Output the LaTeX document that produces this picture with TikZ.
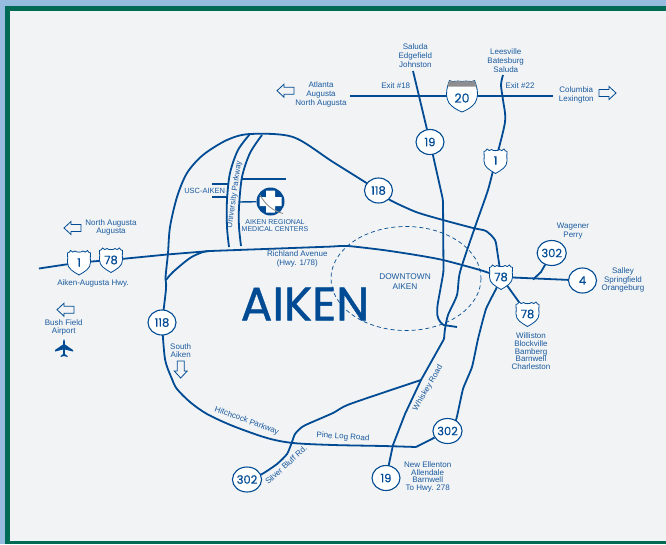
\documentclass[tikz,border=0pt]{standalone}
\usepackage{fontspec}
\setmainfont{Liberation Sans}
\newfontfamily\numf[FakeBold=0.35]{Poppins}
\newfontfamily\titlef[FakeBold=0.9]{Poppins}
\usetikzlibrary{shapes.geometric,backgrounds}
\definecolor{bgc}{HTML}{F1F3F5}
\definecolor{skyc}{HTML}{96BCE0}
\definecolor{greenc}{HTML}{006B54}
\definecolor{roadc}{HTML}{004B93}
\definecolor{textc}{HTML}{1A5A9E}
\definecolor{grayc}{HTML}{8E8E90}
\tikzset{
  road/.style={draw=roadc,line width=1.8pt,line join=round},
  thinroad/.style={draw=roadc,line width=1.4pt},
  lbl/.style={text=textc,align=center,inner sep=0pt,font=\fontsize{8}{9}\selectfont},
  lblt/.style={text=textc,align=center,inner sep=0pt,font=\fontsize{8}{7.6}\selectfont},
  rc/.style={ellipse,draw=roadc,fill=white,line width=1.1pt,minimum width=28,minimum height=25,inner sep=0pt,text=roadc,font=\numf\fontsize{11.5}{12}\selectfont},
  num/.style={inner sep=0pt,text=roadc,font=\numf\fontsize{11.5}{12}\selectfont},
  usshield/.pic={
    \path[draw=roadc,fill=white,line width=0.8pt]
      (-8.5,-12) .. controls (-7.5,-10) and (-5,-10) .. (-4,-11.5)
      .. controls (-3,-10) and (3,-10) .. (4,-11.5)
      .. controls (5,-10) and (7.5,-10) .. (8.5,-12)
      .. controls (9,-10.5) and (10.5,-9.5) .. (11.5,-9.5)
      .. controls (11,-6) and (11.5,-3) .. (11.5,0)
      .. controls (11.5,6) and (6,9) .. (0,12.5)
      .. controls (-6,9) and (-11.5,6) .. (-11.5,0)
      .. controls (-11.5,-3) and (-11,-6) .. (-11.5,-9.5)
      .. controls (-10.5,-9.5) and (-9,-10.5) .. (-8.5,-12) -- cycle;
  },
  ishield/.pic={
    \path[draw=roadc,fill=white,line width=0.8pt]
      (-14.5,-9.5) .. controls (-14,-12) and (-13,-14) .. (-12.5,-15.5)
      .. controls (-9,-13) and (-6,-16) .. (0,-14.5)
      .. controls (6,-16) and (9,-13) .. (12.5,-15.5)
      .. controls (13,-14) and (14,-12) .. (14.5,-9.5)
      .. controls (16,-4) and (16,2) .. (13,7)
      .. controls (10,11) and (5,14) .. (0,16)
      .. controls (-5,14) and (-10,11) .. (-13,7)
      .. controls (-16,2) and (-16,-4) .. (-14.5,-9.5) -- cycle;
    \path[fill=grayc]
      (-14.5,-9.5) .. controls (-14,-12) and (-13,-14) .. (-12.5,-15.5)
      .. controls (-9,-13) and (-6,-16) .. (0,-14.5)
      .. controls (6,-16) and (9,-13) .. (12.5,-15.5)
      .. controls (13,-14) and (14,-12) .. (14.5,-9.5) -- cycle;
  },
  openarrow/.pic={
    \path[draw=roadc,line width=0.8pt,line join=miter]
      (-8.5,0) -- (-1.5,-6.5) -- (-1.5,-3.5) -- (8.5,-3.5) -- (8.5,3.5) -- (-1.5,3.5) -- (-1.5,6.5) -- cycle;
  },
  plane/.pic={
    \path[fill=roadc]
      (0,-9) .. controls (1,-8) and (1,-6) .. (1,-3.5) -- (9,2) -- (9,3.5) -- (1,1.5) -- (0.8,6)
      -- (3.5,8) -- (3.5,9) -- (0,8) -- (-3.5,9) -- (-3.5,8) -- (-0.8,6) -- (-1,1.5) -- (-9,3.5) -- (-9,2) -- (-1,-3.5)
      .. controls (-1,-6) and (-1,-8) .. (0,-9) -- cycle;
  }
}
\begin{document}
\begin{tikzpicture}[x=1pt,y=-1pt]
\useasboundingbox (0,0) rectangle (666,544);
% route markers
\node[rc] (c19n) at (430,142) {19};
\node[rc] (c19s) at (386,478) {19};
\node[rc] (c118e) at (378.5,190.5) {118};
\node[rc] (c118w) at (162,322.5) {118};
\node[rc] (c302e) at (551.7,253) {302};
\node[rc] (c302m) at (447.5,431) {302};
\node[rc] (c302s) at (247,479.5) {302};
\node[rc] (c4) at (582.5,280.5) {4};
\pic at (462,96) {ishield};
\node[num,font=\numf\fontsize{12.5}{13}\selectfont] (i20) at (462,98) {20};
\pic at (495.5,161) {usshield};
\node[num] (s1n) at (495.5,160.5) {1};
\pic at (79,262.5) {usshield};
\node[num] (s1w) at (79,262.5) {1};
\pic at (111,260) {usshield};
\node[num] (s78w) at (111,260) {78};
\pic at (501,277) {usshield};
\node[num] (s78e) at (501,277) {78};
\pic at (527.5,314) {usshield};
\node[num] (s78s) at (527.5,314) {78};
% hospital
\node[circle,fill=roadc,minimum size=28,inner sep=0pt] (hosp) at (270.5,201.5) {};
\fill[white] (266,190.5) -- (275,190.5) -- (275,197) -- (281.5,197) -- (281.5,206) -- (275,206) -- (275,212.5) -- (266,212.5) -- (266,206) -- (259.5,206) -- (259.5,197) -- (266,197) -- cycle;
\draw[grayc,line width=0.9pt] (260,195) .. controls (266,206) and (274,211) .. (283,213.5);
% free ends
\coordinate (n19) at (413,71);
\coordinate (n1) at (503,75);
\coordinate (eW) at (350,96);
\coordinate (eE) at (553,96);
\coordinate (rW) at (39,268.5);
\coordinate (e19) at (457,327);
\coordinate (loopTop) at (250,134);
\coordinate (univR) at (262,135);
\coordinate (univLb) at (229,247);
\coordinate (univRb) at (241,246);
\coordinate (j1) at (166,280);
\coordinate (j2) at (210,251);
\coordinate (j3) at (421,380);
\coordinate (j4) at (533,279.5);
\coordinate (u1a) at (212,184); \coordinate (u1b) at (228,184);
\coordinate (u2a) at (212,197); \coordinate (u2b) at (227,197);
\coordinate (u3a) at (242,179); \coordinate (u3b) at (286,179);
\coordinate (u4a) at (239,202);
% connectors
\begin{scope}[on background layer]
\fill[skyc] (0,0) rectangle (666,544);
\fill[greenc] (5,5.5) rectangle (666,544);
\fill[bgc] (10,10.5) rectangle (666,541);
\draw[thinroad] (eW) -- (eW -| i20) -- (eE);
\draw[road] (n19) -- (419,96) -- (c19n);
\draw[road,rounded corners=3pt] (c19n) -- (443,200) -- (443.5,272) -- (437.5,305) -- (437,312) .. controls (438,321) and (443,325) .. (447,325.5) -- (e19);
\draw[road] plot[smooth,tension=0.5] coordinates {(n1) (501,85) (503,100) (505,122) (s1n)};
\draw[road] plot[smooth,tension=0.4] coordinates {(s1n) (488,190) (475,227) (460,272) (457,295) (448,315) (445,329) (444,339)};
\draw[road] (444,339) -- (j3) -- (405,414) -- (393,445) -- (c19s);
\draw[road] plot[smooth,tension=0.4] coordinates {(j3) (350,404) (333,413) (310,423) (302,427) (295,434) (292,442) (287,454) (277,464) (262,474) (c302s)};
\draw[road] plot[smooth,tension=0.5] coordinates {(c118w) (165,359) (172,379) (177,389) (190,402) (207,414) (233,426) (267,438) (293,443) (333,445) (383,446) (416,447)};
\draw[road] (416,447) -- (c302m);
\draw[road] plot[smooth,tension=0.3] coordinates {(c302m) (456,420) (463,389) (472,367) (478,339) (486,309) (496,289) (s78e)};
\draw[road] plot[smooth,tension=0.5] coordinates {(c118w) (166,289) (165.5,279) (166,272) (168,253) (170,227) (177,197) (187,173) (203,155) (227,140) (loopTop) (293,137) (333,162) (c118e)};
\draw[road] plot[smooth,tension=0.4] coordinates {(c118e) (390,200) (416,212) (443,220) (473,228) (486,231) (495,240) (497.5,253) (s78e)};
\draw[road] plot[smooth,tension=0.5] coordinates {(j1) (173,272) (190,258) (203,252) (j2)};
\draw[road] (rW) -- (s1w) -- (s78w) -- (167,254.5) -- (j2) -- (333,246.5);
\draw[road] plot[smooth,tension=0.4] coordinates {(333,246.5) (348,246) (383,250) (416,255) (443,260) (480,270) (s78e)};
\draw[road] (s78e) -- (c4);
\draw[road] (c302e) -- (541,272) -- (j4);
\draw[road] (s78e) -- (s78s);
\draw[road] plot[smooth,tension=0.5] coordinates {(loopTop) (238,150) (230,173) (227,200) (227,227) (univLb)};
\draw[road] plot[smooth,tension=0.5] coordinates {(univR) (250,153) (242,177) (239,207) (239,227) (univRb)};
\draw[thinroad] (u1a) -- (u1b);
\draw[thinroad] (u2a) -- (u2b);
\draw[thinroad] (u3a) -- (u3b);
\draw[thinroad] (u4a) -- (hosp);
\end{scope}
% downtown
\draw[roadc,line width=0.7pt,dash pattern=on 4pt off 3pt] (406,278.5) ellipse [x radius=75,y radius=52];
% open arrows
\pic at (285.5,90.7) {openarrow};
\pic[rotate=180] at (607.5,93) {openarrow};
\pic at (72.5,228) {openarrow};
\pic at (65.5,309.7) {openarrow};
\pic[rotate=90] at (180.7,369.5) {openarrow};
\pic at (64,348) {plane};
% labels
\node[lbl] (tA) at (321,94) {Atlanta\\Augusta\\North Augusta};
\node[lbl] (tE18) at (395.7,86) {Exit \#18};
\node[lbl] (tS) at (415.3,56) {Saluda\\Edgefield\\Johnston};
\node[lbl] (tL) at (505.7,60.5) {Leesville\\Batesburg\\Saluda};
\node[lbl] (tE22) at (520,86) {Exit \#22};
\node[lbl] (tC) at (576.3,94.7) {Columbia\\Lexington};
\node[lblt] (tNA) at (111,227.5) {North Augusta\\Augusta};
\node[lbl] (tAA) at (93,283) {Aiken-Augusta Hwy.};
\node[lblt] (tB) at (63.7,327.5) {Bush Field\\Airport};
\node[lblt] (tSA) at (180.7,350.7) {South\\Aiken};
\node[lbl,rotate=-20] (tH) at (246.7,421) {Hitchcock Parkway};
\node[lbl,rotate=-4] (tP) at (343,437) {Pine Log Road};
\node[lbl,rotate=42] (tSB) at (286,465) {Silver Bluff Rd.};
\node[lbl,rotate=60] (tW) at (428,388) {Whiskey Road};
\node[lbl,rotate=82] (tU) at (234.5,194.5) {University Parkway};
\node[lbl,font=\fontsize{7.5}{9}\selectfont] (tUSC) at (204.7,190.7) {USC-AIKEN};
\node[lblt,font=\fontsize{7}{7.3}\selectfont] (tH2) at (275,225.7) {AIKEN REGIONAL\\MEDICAL CENTERS};
\node[lbl] (tR) at (297.3,258.5) {Richland Avenue\\(Hwy. 1/78)};
\node[lbl,font=\fontsize{8.3}{10}\selectfont] (tD) at (405,281.7) {DOWNTOWN\\AIKEN};
\node[lbl] (tWg) at (573,230.7) {Wagener\\Perry};
\node[lbl,font=\fontsize{8}{8.5}\selectfont] (tSl) at (623,280) {Salley\\Springfield\\Orangeburg};
\node[lblt] (tWl) at (531,351.3) {Williston\\Blockville\\Bamberg\\Barnwell\\Charleston};
\node[lblt] (tNE) at (427.7,477) {New Ellenton\\Allendale\\Barnwell\\To Hwy. 278};
\node[inner sep=0pt,text=roadc,font=\titlef\fontsize{47}{47}\selectfont] (tAiken) at (305,304) {AIKEN};
\end{tikzpicture}
\end{document}
